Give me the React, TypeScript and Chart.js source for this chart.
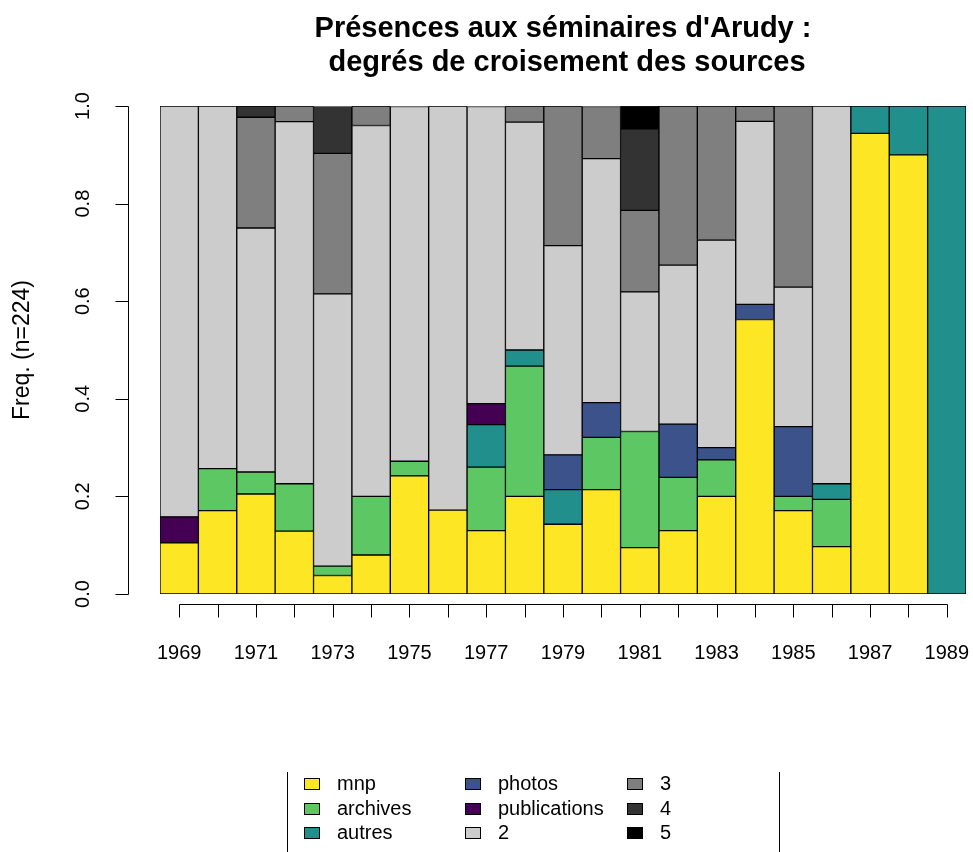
import React, { useEffect, useRef } from "react";
import { Chart, registerables } from "chart.js";

Chart.register(...registerables);

const years = ["1969","1970","1971","1972","1973","1974","1975","1976","1977","1978","1979","1980","1981","1982","1983","1984","1985","1986","1987","1988","1989"];
const xTickLabels = ["1969","1971","1973","1975","1977","1979","1981","1983","1985","1987","1989"];
const yTickValues = [0, 0.2, 0.4, 0.6, 0.8, 1.0];

const mnp =          [0.105,0.171,0.205,0.129,0.038,0.080,0.242,0.172,0.130,0.200,0.143,0.214,0.095,0.130,0.200,0.5625,0.171,0.097,0.944,0.900,0];
const archives =     [0,0.086,0.045,0.097,0.019,0.120,0.030,0,0.130,0.267,0,0.107,0.238,0.109,0.075,0,0.029,0.097,0,0,0];
const autres =       [0,0,0,0,0,0,0,0,0.087,0.033,0.071,0,0,0,0,0,0,0.032,0.056,0.100,1];
const photos =       [0,0,0,0,0,0,0,0,0,0,0.071,0.071,0,0.109,0.025,0.031,0.143,0,0,0,0];
const publications = [0.053,0,0,0,0,0,0,0,0.043,0,0,0,0,0,0,0,0,0,0,0,0];
const deg2 =         [0.842,0.743,0.500,0.742,0.558,0.760,0.727,0.828,0.609,0.467,0.429,0.500,0.286,0.326,0.425,0.375,0.286,0.774,0,0,0];
const deg3 =         [0,0,0.227,0.032,0.288,0.040,0,0,0,0.033,0.286,0.107,0.167,0.326,0.275,0.031,0.371,0,0,0,0];
const deg4 =         [0,0,0.023,0,0.096,0,0,0,0,0,0,0,0.167,0,0,0,0,0,0,0,0];
const deg5 =         [0,0,0,0,0,0,0,0,0,0,0,0,0.048,0,0,0,0,0,0,0,0];

const seriesNames = ["mnp","archives","autres","photos","publications","2","3","4","5"];
const seriesValues = [mnp, archives, autres, photos, publications, deg2, deg3, deg4, deg5];
const seriesColors = ["#FDE725","#5DC863","#21908C","#3B528B","#440154","#CCCCCC","#7F7F7F","#333333","#000000"];

const FONT = '"Liberation Sans", Arial, Helvetica, sans-serif';

const decorPlugin = {
  id: "decor",
  afterDraw(chart: any) {
    const ctx = chart.ctx as CanvasRenderingContext2D;
    const xs = chart.scales.x;
    const ys = chart.scales.y;
    const area = chart.chartArea;
    ctx.save();
    ctx.fillStyle = "#000";
    ctx.strokeStyle = "#000";
    ctx.lineWidth = 1;

    // Title
    const cx = (area.left + area.right) / 2;
    ctx.font = `bold 29px ${FONT}`;
    ctx.textAlign = "center";
    ctx.textBaseline = "middle";
    ctx.fillText("Présences aux séminaires d'Arudy :", cx, 29);
    ctx.fillText(" degrés de croisement des sources", cx, 63);

    // Y axis
    const yAxisX = 128.5;
    ctx.beginPath();
    ctx.moveTo(yAxisX, Math.round(ys.getPixelForValue(0)) + 0.5);
    ctx.lineTo(yAxisX, Math.round(ys.getPixelForValue(1)) + 0.5);
    for (const v of yTickValues) {
      const py = Math.round(ys.getPixelForValue(v)) + 0.5;
      ctx.moveTo(yAxisX, py);
      ctx.lineTo(yAxisX - 13, py);
    }
    ctx.stroke();
    ctx.font = `20px ${FONT}`;
    for (const v of yTickValues) {
      const py = ys.getPixelForValue(v);
      ctx.save();
      ctx.translate(83, py);
      ctx.rotate(-Math.PI / 2);
      ctx.textAlign = "center";
      ctx.textBaseline = "middle";
      ctx.fillText(v.toFixed(1), 0, 0);
      ctx.restore();
    }
    ctx.save();
    ctx.font = `23px ${FONT}`;
    ctx.translate(23, (area.top + area.bottom) / 2);
    ctx.rotate(-Math.PI / 2);
    ctx.textAlign = "center";
    ctx.textBaseline = "middle";
    ctx.fillText("Freq. (n=224)", 0, 0);
    ctx.restore();

    // X axis
    const xAxisY = 604.5;
    const firstX = Math.round(xs.getPixelForValue(0)) + 0.5;
    const lastX = Math.round(xs.getPixelForValue(years.length - 1)) + 0.5;
    ctx.beginPath();
    ctx.moveTo(firstX, xAxisY);
    ctx.lineTo(lastX, xAxisY);
    for (let i = 0; i < years.length; i++) {
      const px = Math.round(xs.getPixelForValue(i)) + 0.5;
      ctx.moveTo(px, xAxisY);
      ctx.lineTo(px, xAxisY + 13);
    }
    ctx.stroke();
    ctx.textAlign = "center";
    ctx.textBaseline = "middle";
    for (const lab of xTickLabels) {
      const i = years.indexOf(lab);
      ctx.fillText(lab, xs.getPixelForValue(i), 653);
    }

    // Legend
    ctx.beginPath();
    ctx.moveTo(287.5, 772);
    ctx.lineTo(287.5, 852);
    ctx.moveTo(779.5, 772);
    ctx.lineTo(779.5, 852);
    ctx.stroke();
    const colBoxX = [304, 465, 627];
    const colTextX = [337, 498, 660];
    const rowY = [784, 809, 833];
    ctx.textAlign = "left";
    ctx.textBaseline = "middle";
    for (let k = 0; k < seriesNames.length; k++) {
      const c = Math.floor(k / 3);
      const r = k % 3;
      ctx.fillStyle = seriesColors[k];
      ctx.fillRect(colBoxX[c], rowY[r] - 6, 16, 12);
      ctx.strokeStyle = "#000";
      ctx.strokeRect(colBoxX[c] + 0.5, rowY[r] - 6 + 0.5, 15, 11);
      ctx.fillStyle = "#000";
      ctx.fillText(seriesNames[k], colTextX[c], rowY[r]);
    }
    ctx.restore();
  },
};

export default function App() {
  const ref = useRef<HTMLCanvasElement | null>(null);
  useEffect(() => {
    if (!ref.current) return;
    const chart = new Chart(ref.current, {
      type: "bar",
      data: {
        labels: years,
        datasets: seriesNames.map((name, k) => ({
          label: name,
          data: seriesValues[k].map((v) => (v > 0 ? v : null)),
          backgroundColor: seriesColors[k],
          borderColor: "#000",
          borderWidth: 1,
          borderSkipped: false,
          barPercentage: 1,
          categoryPercentage: 1,
        })),
      },
      options: {
        animation: false,
        responsive: false,
        devicePixelRatio: 1,
        layout: { padding: { left: 160, right: 7, top: 106, bottom: 258 } },
        plugins: { legend: { display: false }, title: { display: false }, tooltip: { enabled: false } },
        scales: {
          x: { type: "category", stacked: true, display: false, offset: true },
          y: { stacked: true, min: 0, max: 1, display: false },
        },
      },
      plugins: [decorPlugin],
    });
    return () => chart.destroy();
  }, []);
  return (
    <div style={{ position: "absolute", left: 0, top: 0, width: 973, height: 852, background: "#fff" }}>
      <canvas ref={ref} width={973} height={852} style={{ width: 973, height: 852, display: "block" }} />
    </div>
  );
}
